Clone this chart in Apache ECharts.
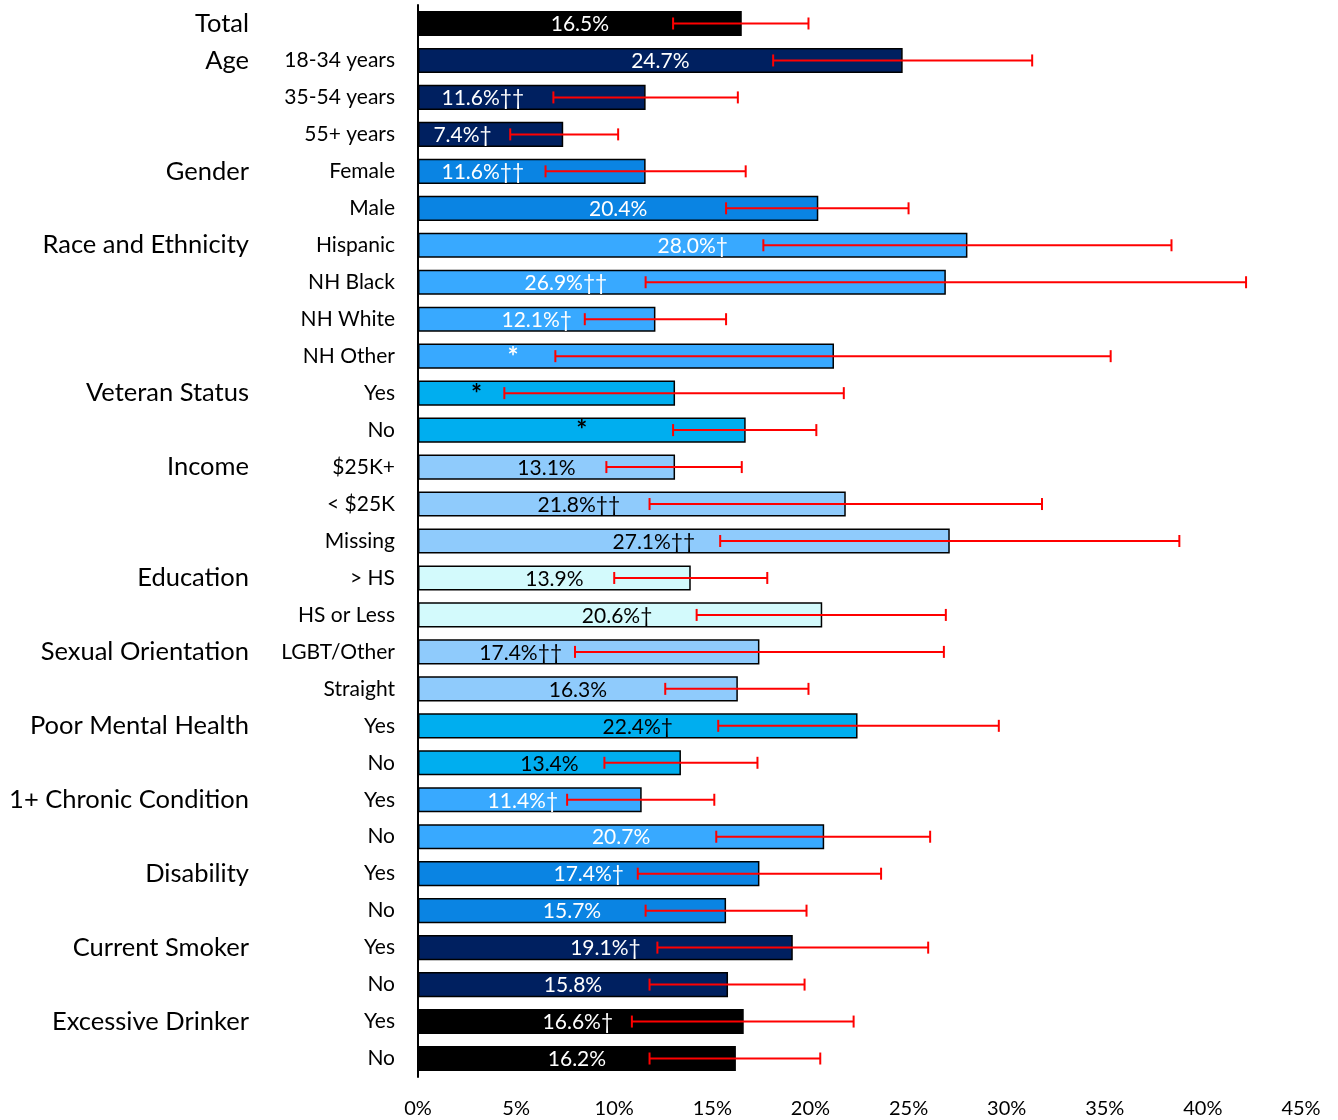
<!DOCTYPE html>
<html>
<head>
<meta charset="utf-8">
<title>Prevalence by subgroup</title>
<script src="https://cdn.jsdelivr.net/npm/echarts@6/dist/echarts.min.js"></script>
<style>
  html, body { margin: 0; padding: 0; background: #fff; }
  #chart { width: 1338px; height: 1120px; }
</style>
</head>
<body>
<div id="chart"></div>
<script>
// Group headings, one per block of rows
const groupNames = ['Total', 'Age', 'Gender', 'Race and Ethnicity', 'Veteran Status', 'Income',
  'Education', 'Sexual Orientation', 'Poor Mental Health', '1+ Chronic Condition', 'Disability',
  'Current Smoker', 'Excessive Drinker'];

// Row labels and the group each row belongs to
const subLabels = ['', '18-34 years', '35-54 years', '55+ years', 'Female', 'Male', 'Hispanic',
  'NH Black', 'NH White', 'NH Other', 'Yes', 'No', '$25K+', '< $25K', 'Missing', '> HS',
  'HS or Less', 'LGBT/Other', 'Straight', 'Yes', 'No', 'Yes', 'No', 'Yes', 'No', 'Yes', 'No',
  'Yes', 'No'];
const rowGroup = [0, 1, 1, 1, 2, 2, 3, 3, 3, 3, 4, 4, 5, 5, 5, 6, 6, 7, 7, 8, 8, 9, 9, 10, 10, 11, 11, 12, 12];

// Prevalence estimates (%) with 95% confidence limits
const prevalence = [16.5, 24.7, 11.6, 7.4, 11.6, 20.4, 28.0, 26.9, 12.1, 21.2, 13.1, 16.7, 13.1,
  21.8, 27.1, 13.9, 20.6, 17.4, 16.3, 22.4, 13.4, 11.4, 20.7, 17.4, 15.7, 19.1, 15.8, 16.6, 16.2];
const ciLow = [13.0, 18.1, 6.9, 4.7, 6.5, 15.7, 17.6, 11.6, 8.5, 7.0, 4.4, 13.0, 9.6, 11.8, 15.4,
  10.0, 14.2, 8.0, 12.6, 15.3, 9.5, 7.6, 15.2, 11.2, 11.6, 12.2, 11.8, 10.9, 11.8];
const ciHigh = [19.9, 31.3, 16.3, 10.2, 16.7, 25.0, 38.4, 42.2, 15.7, 35.3, 21.7, 20.3, 16.5, 31.8,
  38.8, 17.8, 26.9, 26.8, 19.9, 29.6, 17.3, 15.1, 26.1, 23.6, 19.8, 26.0, 19.7, 22.2, 20.5];

// Significance markers appended to labels; suppressed estimates show only "*"
const flags = ['', '', '††', '†', '††', '', '†', '††', '†', '', '', '', '', '††', '††', '', '†',
  '††', '', '†', '', '†', '', '†', '', '†', '', '†', ''];
const suppressed = [false, false, false, false, false, false, false, false, false, true, true, true,
  false, false, false, false, false, false, false, false, false, false, false, false, false, false,
  false, false, false];

// X axis ticks
const xTicks = [0, 5, 10, 15, 20, 25, 30, 35, 40, 45];

// Styling: fill and label colour per group, label nudges (px) to keep text clear of whiskers
const groupFill = ['#000000', '#002060', '#0A84E3', '#38A9FF', '#00AEEF', '#8FCBFC', '#D3FAFC',
  '#8FCBFC', '#00AEEF', '#38A9FF', '#0A84E3', '#002060', '#000000'];
const groupText = ['#ffffff', '#ffffff', '#ffffff', '#ffffff', '#000000', '#000000', '#000000',
  '#000000', '#000000', '#ffffff', '#ffffff', '#ffffff', '#ffffff'];
const labelNudge = [0, 0, -49, -28, -49, 0, 0, -116, 0, -113, -70, 0, 0, -53, -30, 0, -3, -68, 0,
  0, 0, -7, 0, 0, 0, 0, 0, -3, 0];

const FONT = 'Lato';
const rowIds = subLabels.map((_, i) => String(i));
const firstOfGroup = rowGroup.map((g, i) => i === 0 || rowGroup[i - 1] !== g);

const barData = prevalence.map((v, i) => {
  const g = rowGroup[i];
  return {
    value: v,
    itemStyle: {
      color: groupFill[g],
      borderColor: '#000000',
      borderWidth: 1.5
    },
    label: {
      show: true,
      position: 'inside',
      offset: suppressed[i] ? [labelNudge[i], 1] : [labelNudge[i], 1],
      color: groupText[g],
      fontFamily: FONT,
      fontSize: suppressed[i] ? 26 : 21,
      fontWeight: suppressed[i] ? 'bold' : 'normal',
      formatter: suppressed[i] ? '*' : v.toFixed(1) + '%' + flags[i]
    }
  };
});

const ciData = ciLow.map((lo, i) => [lo, ciHigh[i], i]);

const chart = echarts.init(document.getElementById('chart'), null, { renderer: 'canvas' });

chart.setOption({
  animation: false,
  backgroundColor: '#ffffff',
  grid: { left: 418, right: 37, top: 5, bottom: 43, containLabel: false },
  xAxis: {
    type: 'value',
    min: xTicks[0],
    max: xTicks[xTicks.length - 1],
    interval: xTicks[1] - xTicks[0],
    axisLine: { show: false },
    axisTick: { show: false },
    splitLine: { show: false },
    axisLabel: {
      formatter: '{value}%',
      color: '#000000',
      fontFamily: FONT,
      fontSize: 20,
      margin: 22
    }
  },
  yAxis: [
    {
      type: 'category',
      data: rowIds,
      inverse: true,
      axisLine: { show: true, lineStyle: { color: '#000000', width: 2 } },
      axisTick: { show: false },
      axisLabel: {
        formatter: (v) => subLabels[+v],
        color: '#000000',
        fontFamily: FONT,
        fontSize: 21,
        margin: 23
      }
    },
    {
      type: 'category',
      data: rowIds,
      inverse: true,
      position: 'left',
      axisLine: { show: false },
      axisTick: { show: false },
      axisLabel: {
        formatter: (v) => (firstOfGroup[+v] ? groupNames[rowGroup[+v]] : ''),
        color: '#000000',
        fontFamily: FONT,
        fontSize: 25.5,
        margin: 169
      }
    }
  ],
  series: [
    {
      type: 'bar',
      yAxisIndex: 0,
      barWidth: '68%',
      data: barData,
      z: 2
    },
    {
      type: 'custom',
      yAxisIndex: 0,
      z: 5,
      encode: { x: [0, 1], y: 2 },
      data: ciData,
      renderItem: function (params, api) {
        const row = api.value(2);
        const p0 = api.coord([api.value(0), row]);
        const p1 = api.coord([api.value(1), row]);
        const cap = 6;
        const style = { stroke: '#FF0000', lineWidth: 2 };
        return {
          type: 'group',
          children: [
            { type: 'line', shape: { x1: p0[0], y1: p0[1], x2: p1[0], y2: p1[1] }, style },
            { type: 'line', shape: { x1: p0[0], y1: p0[1] - cap, x2: p0[0], y2: p0[1] + cap }, style },
            { type: 'line', shape: { x1: p1[0], y1: p1[1] - cap, x2: p1[0], y2: p1[1] + cap }, style }
          ]
        };
      }
    }
  ]
});
</script>
</body>
</html>
